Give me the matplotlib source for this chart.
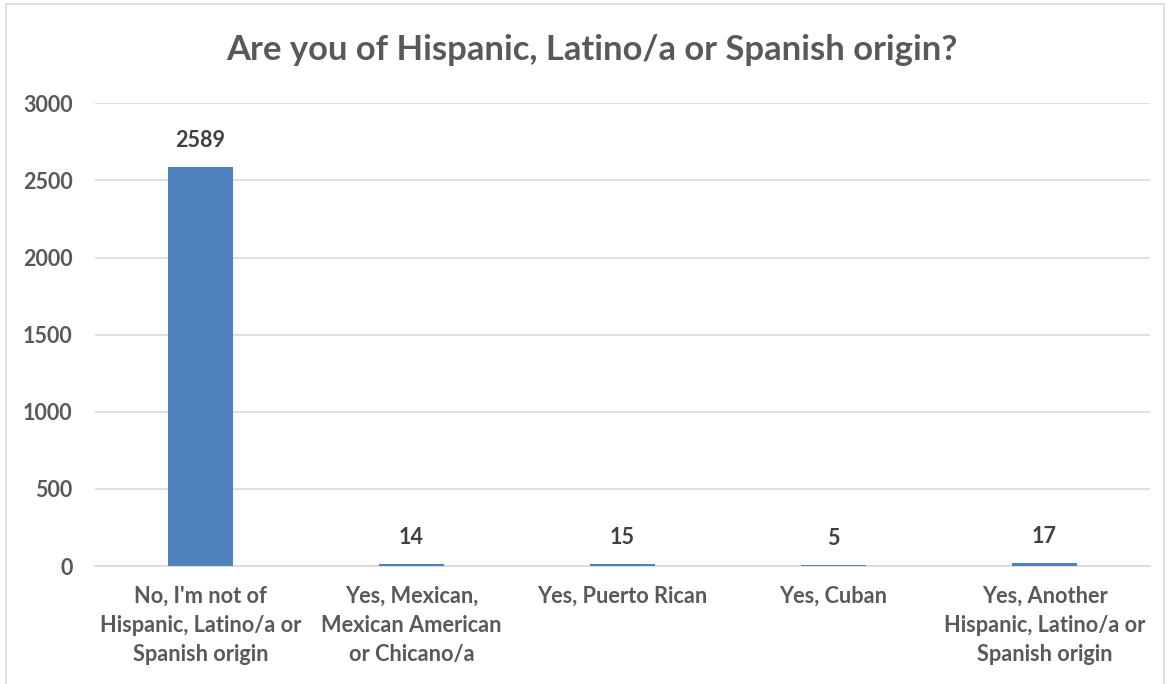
import numpy as np
import matplotlib
matplotlib.use('Agg')
import matplotlib.pyplot as plt
from matplotlib.patches import Rectangle

# survey answers and counts
categories = [
    "No, I'm not of\nHispanic, Latino/a or\nSpanish origin",
    "Yes, Mexican,\nMexican American\nor Chicano/a",
    "Yes, Puerto Rican",
    "Yes, Cuban",
    "Yes, Another\nHispanic, Latino/a or\nSpanish origin",
]
counts = [2589, 14, 15, 5, 17]
y_ticks = [0, 500, 1000, 1500, 2000, 2500, 3000]

plt.rcParams['font.family'] = ['Lato', 'DejaVu Sans']

fig = plt.figure(figsize=(11.7, 6.84), dpi=100)
ax = fig.add_axes([0.081, 0.1725, 0.902, 0.6765])

# light frame round the whole chart
fig.patches.append(Rectangle((0.005, -0.01), 0.99, 1.004, transform=fig.transFigure,
                             fill=False, edgecolor='#D9D9D9', linewidth=1.2))

x = np.arange(len(categories))
bars = ax.bar(x, counts, width=0.31, color='#4F81BD', zorder=3)

for bar, val in zip(bars, counts):
    ax.annotate(str(val), (bar.get_x() + bar.get_width() / 2, bar.get_height()),
                xytext=(0, 19), textcoords='offset points', ha='center', va='center',
                fontsize=15.5, fontweight='bold', color='#404040')

ax.set_xlim(-0.5, len(categories) - 0.5)
ax.set_ylim(0, 3000)
ax.set_yticks(y_ticks)
ax.yaxis.grid(True, color='#D9D9D9', linewidth=1.2, zorder=0)
ax.set_axisbelow(True)

ax.set_xticks(x)
ax.set_xticklabels(categories, fontsize=15.7, fontweight='bold', color='#595959', linespacing=1.48)
for lbl in ax.get_yticklabels():
    lbl.set_fontsize(15.5)
    lbl.set_fontweight('bold')
    lbl.set_color('#595959')
ax.tick_params(axis='x', length=0, pad=14)
ax.tick_params(axis='y', length=0, pad=16)

for side in ['top', 'right', 'left']:
    ax.spines[side].set_visible(False)
ax.spines['bottom'].set_color('#D9D9D9')
ax.spines['bottom'].set_linewidth(1.2)

fig.text(0.506, 0.927, 'Are you of Hispanic, Latino/a or Spanish origin?', ha='center', va='center',
         fontsize=24.9, fontweight='bold', color='#595959')

fig.savefig('out.png', dpi=100)
